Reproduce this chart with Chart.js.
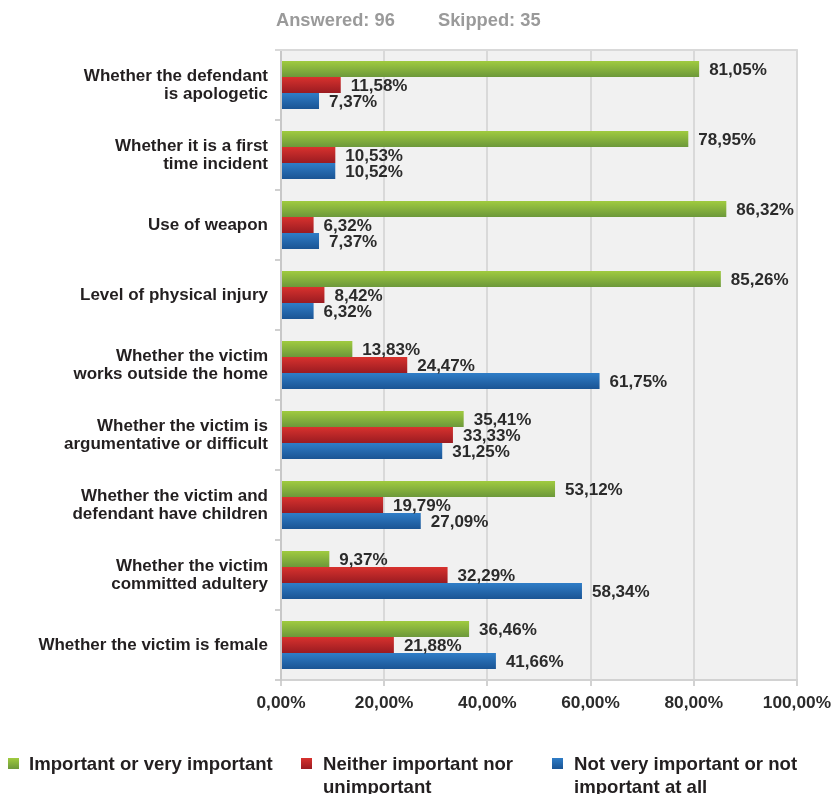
<!DOCTYPE html>
<html>
<head>
<meta charset="utf-8">
<script src="https://cdn.jsdelivr.net/npm/chart.js@4.4.1/dist/chart.umd.min.js"></script>
<style>
  body { margin: 0; background: #fff; font-family: "Liberation Sans", Arial, sans-serif; }
  #wrap { position: relative; width: 838px; height: 794px; }
  #chart { position: absolute; left: 0; top: 0; }
  .head { position: absolute; top: 9px; font-weight: bold; font-size: 18.3px; color: #9a9a9a; }
  .leg { position: absolute; top: 752px; font-weight: bold; font-size: 18.6px; line-height: 23px; color: #231f20; }
  .leg i { position: absolute; top: 6px; width: 11px; height: 11px; }
</style>
</head>
<body>
<div id="wrap">
  <canvas id="chart" width="838" height="794"></canvas>
  <div class="head" style="left:276px">Answered: 96</div>
  <div class="head" style="left:438px">Skipped: 35</div>
  <div id="legend"></div>
</div>
<script>
const categories = [
  ['Whether the defendant', 'is apologetic'],
  ['Whether it is a first', 'time incident'],
  'Use of weapon',
  'Level of physical injury',
  ['Whether the victim', 'works outside the home'],
  ['Whether the victim is', 'argumentative or difficult'],
  ['Whether the victim and', 'defendant have children'],
  ['Whether the victim', 'committed adultery'],
  'Whether the victim is female'
];
const important = [81.05, 78.95, 86.32, 85.26, 13.83, 35.41, 53.12, 9.37, 36.46];
const neither = [11.58, 10.53, 6.32, 8.42, 24.47, 33.33, 19.79, 32.29, 21.88];
const notImportant = [7.37, 10.52, 7.37, 6.32, 61.75, 31.25, 27.09, 58.34, 41.66];
const seriesNames = [
  ['Important or very important'],
  ['Neither important nor', 'unimportant'],
  ['Not very important or not', 'important at all']
];
const xTicks = [0, 20, 40, 60, 80, 100];

// gradient stops per series: top, bottom
const shades = [
  ['#a0cb3f', '#6c983a'],
  ['#d8322e', '#9a1b21'],
  ['#2f7dc7', '#1a5494']
];
const legendX = [8, 301, 552];

const catPct = 0.686;

function fmt(v) {
  return v.toFixed(2).replace('.', ',') + '%';
}

function barFill(ctx) {
  const chart = ctx.chart;
  const s = shades[ctx.datasetIndex];
  const y = chart.scales.y;
  if (!chart.chartArea || !y) return s[0];
  const step = y.getPixelForValue(1) - y.getPixelForValue(0);
  const size = step * catPct / 3;
  const top = y.getPixelForValue(ctx.dataIndex) - step * catPct / 2 + size * ctx.datasetIndex;
  const g = chart.ctx.createLinearGradient(0, top, 0, top + size);
  g.addColorStop(0, s[0]);
  g.addColorStop(1, s[1]);
  return g;
}

const plotFrame = {
  id: 'plotFrame',
  beforeDraw(chart) {
    const a = chart.chartArea, c = chart.ctx;
    c.save();
    c.fillStyle = '#f1f1f1';
    c.fillRect(a.left, a.top, a.right - a.left, a.bottom - a.top);
    c.restore();
  },
  afterDraw(chart) {
    const a = chart.chartArea, c = chart.ctx;
    c.save();
    c.strokeStyle = '#d9d9d9';
    c.lineWidth = 2;
    c.beginPath();
    c.moveTo(a.left - 6, a.top);
    c.lineTo(a.right + 1, a.top);
    c.stroke();
    c.restore();
  }
};

const valueLabels = {
  id: 'valueLabels',
  afterDatasetsDraw(chart) {
    const c = chart.ctx;
    c.save();
    c.font = 'bold 17px "Liberation Sans", Arial, sans-serif';
    c.fillStyle = '#2b2b2b';
    c.textAlign = 'left';
    c.textBaseline = 'middle';
    chart.data.datasets.forEach((ds, i) => {
      chart.getDatasetMeta(i).data.forEach((bar, j) => {
        c.fillText(fmt(ds.data[j]), bar.x + 10, bar.y + 1);
      });
    });
    c.restore();
  }
};

const chart = new Chart(document.getElementById('chart'), {
  type: 'bar',
  data: {
    labels: categories,
    datasets: [
      { label: seriesNames[0].join(' '), data: important },
      { label: seriesNames[1].join(' '), data: neither },
      { label: seriesNames[2].join(' '), data: notImportant }
    ]
  },
  options: {
    indexAxis: 'y',
    responsive: false,
    animation: false,
    categoryPercentage: catPct,
    barPercentage: 1,
    backgroundColor: barFill,
    layout: { padding: { top: 50, right: 40, bottom: 74, left: 0 } },
    plugins: {
      legend: { display: false },
      tooltip: { enabled: false }
    },
    scales: {
      x: {
        min: 0,
        max: 100,
        afterFit(s) { s.height = 40; },
        afterBuildTicks(s) { s.ticks = xTicks.map(v => ({ value: v })); },
        grid: { color: '#d9d9d9', lineWidth: 2, tickLength: 6, tickColor: '#d2d2d2' },
        border: { color: '#d2d2d2', width: 2 },
        ticks: {
          padding: 7,
          color: '#2b2b2b',
          font: { family: '"Liberation Sans", Arial, sans-serif', size: 17.3, weight: 'bold' },
          callback: v => fmt(v)
        }
      },
      y: {
        afterFit(s) { s.width = 281; },
        grid: { drawOnChartArea: false, offset: true, tickLength: 6, color: '#d0d0d0', lineWidth: 2 },
        border: { color: '#c8c8c8', width: 2 },
        ticks: {
          padding: 7,
          color: '#231f20',
          font: { family: '"Liberation Sans", Arial, sans-serif', size: 17, weight: 'bold', lineHeight: 1.06 }
        }
      }
    }
  },
  plugins: [plotFrame, valueLabels]
});

// legend built from the dataset names
const legend = document.getElementById('legend');
seriesNames.forEach((lines, i) => {
  const d = document.createElement('div');
  d.className = 'leg';
  d.style.left = legendX[i] + 'px';
  d.style.paddingLeft = (i === 0 ? 21 : 22) + 'px';
  const sw = document.createElement('i');
  sw.style.left = '0px';
  sw.style.background = 'linear-gradient(' + shades[i][0] + ',' + shades[i][1] + ')';
  d.appendChild(sw);
  lines.forEach((t, k) => {
    if (k) d.appendChild(document.createElement('br'));
    d.appendChild(document.createTextNode(t));
  });
  legend.appendChild(d);
});
</script>
</body>
</html>
